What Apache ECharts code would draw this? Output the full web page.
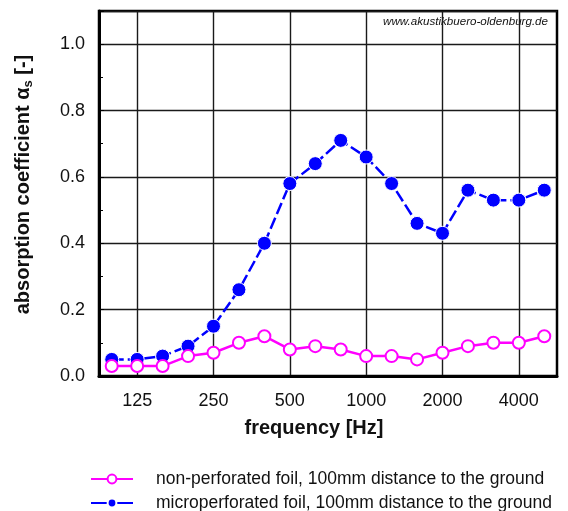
<!DOCTYPE html>
<html>
<head>
<meta charset="utf-8">
<script src="https://cdn.jsdelivr.net/npm/echarts@6/dist/echarts.min.js"></script>
<style>
  html, body { margin: 0; padding: 0; background: #fff; }
  #chart { width: 568px; height: 511px; }
</style>
</head>
<body>
<div id="chart"></div>
<script>
// third-octave bands, plotted by index
var bands = ['100', '125', '160', '200', '250', '315', '400', '500', '630', '800',
  '1000', '1250', '1600', '2000', '2500', '3150', '4000', '5000']
var labelIdx = [1, 4, 7, 10, 13, 16]

var nonPerforated = [0.03, 0.03, 0.03, 0.06, 0.07, 0.10, 0.12, 0.08, 0.09, 0.08,
  0.06, 0.06, 0.05, 0.07, 0.09, 0.10, 0.10, 0.12]
var microPerforated = [0.05, 0.05, 0.06, 0.09, 0.15, 0.26, 0.40, 0.58, 0.64, 0.71,
  0.66, 0.58, 0.46, 0.43, 0.56, 0.53, 0.53, 0.56]

var nameNon = 'non-perforated foil, 100mm distance to the ground'
var nameMicro = 'microperforated foil, 100mm distance to the ground'

var font = 'Liberation Sans, Arial, sans-serif'

function toPairs (arr) {
  return arr.map(function (v, i) { return [i, v] })
}

var chart = echarts.init(document.getElementById('chart'))
var option = {
  animation: false,
  textStyle: { fontFamily: font },
  grid: {
    left: 99, right: 11, top: 11, bottom: 135,
    show: true, borderColor: '#000', borderWidth: 2.5
  },
  legend: {
    orient: 'vertical',
    left: 90,
    top: 470,
    height: 80,
    padding: 0,
    itemWidth: 42,
    itemHeight: 11,
    itemGap: 6,
    textStyle: { fontSize: 17.5, color: '#111', fontFamily: font, padding: [0, 0, 0, 18] },
    data: [
      { name: nameNon },
      { name: nameMicro, lineStyle: { type: 'solid' } }
    ]
  },
  graphic: [{
    type: 'text',
    right: 20,
    top: 16,
    style: {
      text: 'www.akustikbuero-oldenburg.de',
      font: 'italic 11.6px Liberation Sans, Arial, sans-serif',
      fill: '#111'
    }
  }],
  xAxis: {
    type: 'value',
    min: -0.5,
    max: 17.5,
    name: 'frequency [Hz]',
    nameLocation: 'middle',
    nameGap: 42,
    nameTextStyle: { fontSize: 20, fontWeight: 'bold', color: '#111', padding: [0, 28, 0, 0] },
    axisLine: { show: true, onZero: false, lineStyle: { color: '#000', width: 3 } },
    axisTick: { show: false, customValues: labelIdx },
    axisLabel: {
      customValues: labelIdx,
      fontSize: 18,
      color: '#111',
      margin: 16,
      formatter: function (v) { return bands[Math.round(v)] }
    },
    splitLine: { show: true, lineStyle: { color: '#1a1a1a', width: 1.4 } }
  },
  yAxis: {
    type: 'value',
    min: 0,
    max: 1.1,
    interval: 0.2,
    name: '{a|absorption coefficient α}{s|s}{a| [-]}',
    nameLocation: 'middle',
    nameGap: 64,
    nameTextStyle: {
      padding: [0, 0, 0, 18],
      rich: {
        a: { fontSize: 20, fontWeight: 'bold', color: '#111', fontFamily: font },
        s: { fontSize: 13, fontWeight: 'bold', color: '#111', fontFamily: font, verticalAlign: 'bottom', padding: [10, 0, 0, 0] }
      }
    },
    axisLine: { show: true, onZero: false, lineStyle: { color: '#000', width: 3 } },
    axisTick: { show: true, inside: true, length: 5, lineStyle: { color: '#000' } },
    minorTick: { show: true, splitNumber: 2, length: 4, lineStyle: { color: '#000' } },
    axisLabel: {
      fontSize: 18,
      color: '#111',
      margin: 14,
      showMaxLabel: false,
      formatter: function (v) { return v.toFixed(1) }
    },
    splitLine: { show: true, lineStyle: { color: '#1a1a1a', width: 1.4 } }
  },
  series: [
    {
      name: nameMicro,
      type: 'line',
      data: toPairs(microPerforated),
      symbol: 'circle',
      symbolSize: 14,
      itemStyle: { color: '#0000ff', borderColor: '#fff', borderWidth: 1 },
      lineStyle: { color: '#0000ff', width: 2.5, type: [12, 4] },
      z: 3
    },
    {
      name: nameNon,
      type: 'line',
      data: toPairs(nonPerforated),
      symbol: 'circle',
      symbolSize: 12,
      itemStyle: { color: '#fff', borderColor: '#ff00ff', borderWidth: 2 },
      lineStyle: { color: '#ff00ff', width: 2.5 },
      z: 4
    }
  ]
}
chart.setOption(option)
</script>
</body>
</html>
